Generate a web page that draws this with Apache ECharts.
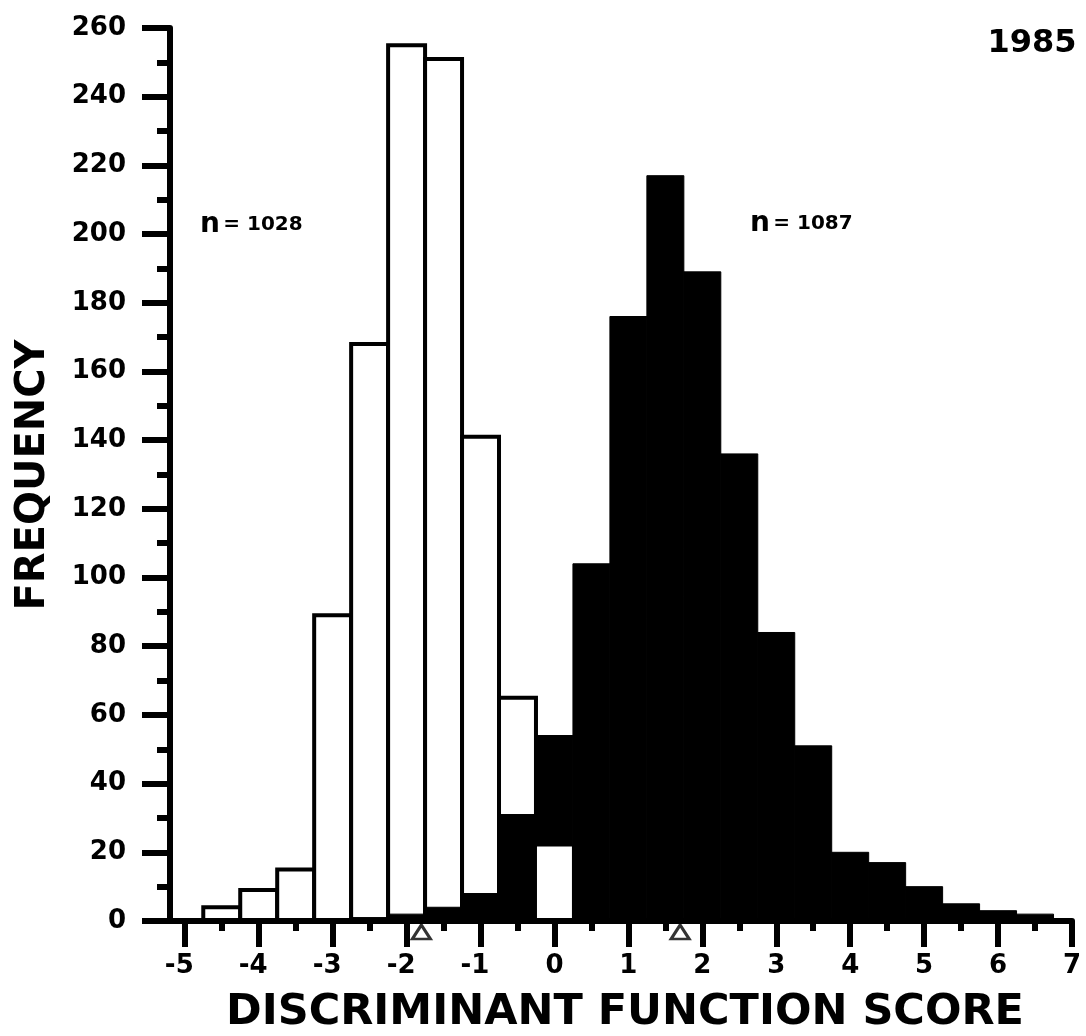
<!DOCTYPE html>
<html>
<head>
<meta charset="utf-8">
<title>1985 - discriminant function score</title>
<script src="https://cdn.jsdelivr.net/npm/echarts@6/dist/echarts.min.js"></script>
<style>
  html, body { margin: 0; padding: 0; background: #fff; }
  #chart { width: 1086px; height: 1036px; }
</style>
</head>
<body>
<div id="chart"></div>
<script>
// bin centres of the score, bins are 0.5 wide
const binCentres = [-5, -4.5, -4, -3.5, -3, -2.5, -2, -1.5, -1, -0.5, 0, 0.5, 1, 1.5, 2, 2.5, 3, 3.5, 4, 4.5, 5, 5.5, 6, 6.5];
// open bars (n = 1028)
const openCounts  = [0, 4, 9, 15, 89, 168, 255, 251, 141, 65, 22, 0, 0, 0, 0, 0, 0, 0, 0, 0, 0, 0, 0, 0];
// filled bars (n = 1087)
const solidCounts = [0, 0, 0, 0, 0, 1, 2, 4, 8, 31, 54, 104, 176, 217, 189, 136, 84, 51, 20, 17, 10, 5, 3, 2];
// the two little triangles under the axis (group means)
const groupMeans = [-1.8, 1.7];

const xTicks      = [-5, -4, -3, -2, -1, 0, 1, 2, 3, 4, 5, 6, 7];
const xMinorTicks = [-4.5, -3.5, -2.5, -1.5, -0.5, 0.5, 1.5, 2.5, 3.5, 4.5, 5.5, 6.5];
const BIN = 0.5;

const FONT = '"DejaVu Sans", "Liberation Sans", sans-serif';

// the shorter bar of a bin is drawn in front of the taller one
let openBack = [], openFront = [], solid = [];
binCentres.forEach((c, i) => {
    let o = openCounts[i], s = solidCounts[i];
    if (s > 0) solid.push([c, s]);
    if (o > 0) {
        if (o >= s) openBack.push([c, o]);
        else openFront.push([c, o]);
    }
});

function binRect(fill, stroke, lw) {
    return function (params, api) {
        let c = api.value(0), v = api.value(1);
        let a = api.coord([c - BIN / 2, v]);
        let b = api.coord([c + BIN / 2, 0]);
        return {
            type: 'rect',
            shape: { x: a[0], y: a[1], width: b[0] - a[0], height: b[1] - a[1] },
            style: { fill: fill, stroke: stroke, lineWidth: lw }
        };
    };
}

const myChart = echarts.init(document.getElementById('chart'), null, { renderer: 'canvas' });

const gridBox = { left: 170, right: 14, top: 28, bottom: 115 };

myChart.setOption({
    backgroundColor: '#fff',
    animation: false,
    grid: [
        Object.assign({}, gridBox),
        Object.assign({}, gridBox)
    ],
    xAxis: [{
        gridIndex: 0,
        type: 'value',
        min: -5.2,
        max: 7,
        z: 10,
        axisLine: { show: true, onZero: false, lineStyle: { color: '#000', width: 6 } },
        axisTick: { show: true, customValues: xTicks, length: 26, lineStyle: { color: '#000', width: 6 } },
        axisLabel: {
            customValues: xTicks,
            margin: 32,
            formatter: v => v < 0 ? '{d|-' + (-v) + '}{sp|}' : '{d|' + v + '}',
            rich: {
                d: { fontSize: 26, fontWeight: 'bold', fontFamily: FONT, color: '#000' },
                sp: { width: 11 }
            }
        },
        splitLine: { show: false }
    }, {
        gridIndex: 1,
        type: 'value',
        min: -5.2,
        max: 7,
        z: 10,
        axisLine: { show: false, onZero: false },
        axisTick: { show: true, customValues: xMinorTicks, length: 10, lineStyle: { color: '#000', width: 6 } },
        axisLabel: { show: false },
        splitLine: { show: false }
    }],
    yAxis: [{
        gridIndex: 0,
        type: 'value',
        min: 0,
        max: 260,
        interval: 20,
        z: 10,
        axisLine: { show: true, onZero: false, lineStyle: { color: '#000', width: 6 } },
        axisTick: { show: true, length: 28, lineStyle: { color: '#000', width: 6 } },
        minorTick: { show: true, splitNumber: 2, length: 13, lineStyle: { color: '#000', width: 6 } },
        axisLabel: { margin: 44, fontSize: 26, fontWeight: 'bold', fontFamily: FONT, color: '#000' },
        splitLine: { show: false },
        minorSplitLine: { show: false }
    }, {
        gridIndex: 1,
        type: 'value',
        min: 0,
        max: 260,
        show: false
    }],
    series: [{
        name: 'open (behind)',
        type: 'custom',
        xAxisIndex: 0, yAxisIndex: 0,
        renderItem: binRect('#fff', '#000', 4),
        encode: { x: 0, y: 1 },
        data: openBack,
        z: 2
    }, {
        name: 'solid',
        type: 'custom',
        xAxisIndex: 0, yAxisIndex: 0,
        renderItem: binRect('#000', '#000', 1),
        encode: { x: 0, y: 1 },
        data: solid,
        z: 3
    }, {
        name: 'open (front)',
        type: 'custom',
        xAxisIndex: 0, yAxisIndex: 0,
        renderItem: binRect('#fff', '#000', 2),
        encode: { x: 0, y: 1 },
        data: openFront,
        z: 4
    }, {
        name: 'means',
        type: 'scatter',
        xAxisIndex: 0, yAxisIndex: 0,
        data: groupMeans.map(m => [m, 0]),
        symbol: 'triangle',
        symbolSize: [18, 14],
        symbolOffset: [0, 11],
        clip: false,
        itemStyle: { color: '#fff', borderColor: '#000', borderWidth: 3 },
        z: 12
    }],
    graphic: [{
        type: 'text',
        x: 34, y: 475,
        rotation: Math.PI / 2,
        style: { text: 'FREQUENCY', fontSize: 40, fontWeight: 'bold', fontFamily: FONT, fill: '#000', align: 'center', verticalAlign: 'middle' }
    }, {
        type: 'text',
        x: 625, y: 1013,
        style: { text: 'DISCRIMINANT FUNCTION SCORE', fontSize: 43, fontWeight: 'bold', fontFamily: FONT, fill: '#000', align: 'center', verticalAlign: 'middle' }
    }, {
        type: 'text',
        x: 1032, y: 44,
        style: { text: '1985', fontSize: 32, fontWeight: 'bold', fontFamily: FONT, fill: '#000', align: 'center', verticalAlign: 'middle' }
    }, {
        type: 'text',
        x: 200, y: 225,
        style: {
            text: '{n|n} {r|= 1028}',
            align: 'left', verticalAlign: 'middle', fill: '#000',
            rich: {
                n: { fontSize: 28, fontWeight: 'bold', fontFamily: FONT, fill: '#000' },
                r: { fontSize: 20, fontWeight: 'bold', fontFamily: FONT, fill: '#000' }
            }
        }
    }, {
        type: 'text',
        x: 750, y: 224,
        style: {
            text: '{n|n} {r|= 1087}',
            align: 'left', verticalAlign: 'middle', fill: '#000',
            rich: {
                n: { fontSize: 28, fontWeight: 'bold', fontFamily: FONT, fill: '#000' },
                r: { fontSize: 20, fontWeight: 'bold', fontFamily: FONT, fill: '#000' }
            }
        }
    }]
});
</script>
</body>
</html>
